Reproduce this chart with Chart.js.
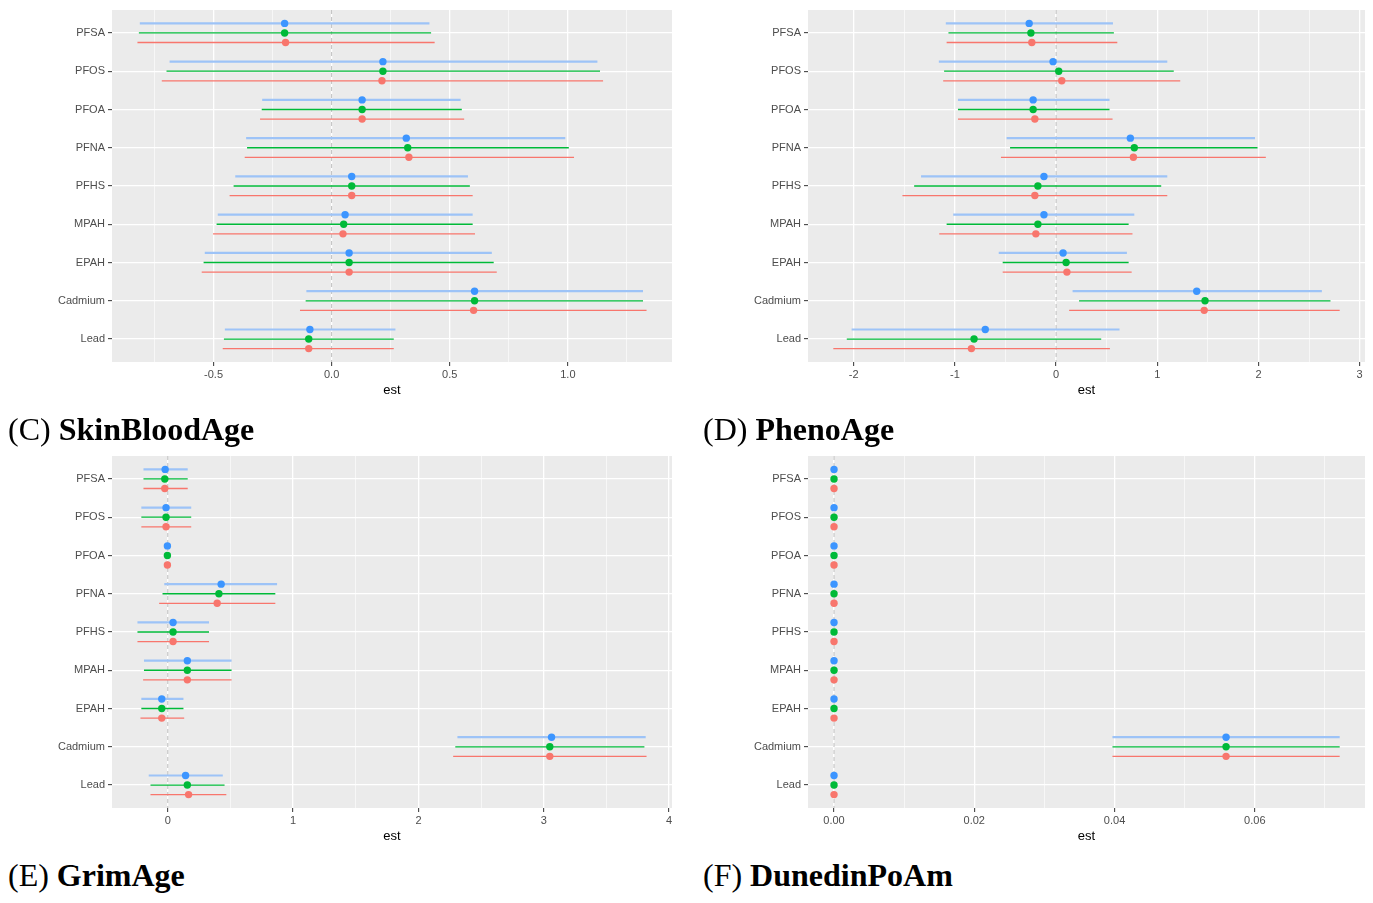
<!DOCTYPE html>
<html>
<head>
<meta charset="utf-8">
<script src="https://cdn.jsdelivr.net/npm/chart.js@4.4.1/dist/chart.umd.min.js"></script>
<style>
  body { margin: 0; background: #fff; width: 1373px; height: 903px; position: relative; overflow: hidden; }
  .panel { position: absolute; }
  .lab { position: absolute; font-family: "Liberation Serif", "Times New Roman", serif; font-size: 32px; line-height: 32px; color: #000; white-space: nowrap; }
  .lab b { font-weight: bold; }
</style>
</head>
<body>
<div class="panel" style="left:0;top:0;width:680px;height:400px"><canvas id="chartC"></canvas></div>
<div class="panel" style="left:690px;top:0;width:683px;height:400px"><canvas id="chartD"></canvas></div>
<div class="panel" style="left:0;top:446px;width:680px;height:400px"><canvas id="chartE"></canvas></div>
<div class="panel" style="left:690px;top:446px;width:683px;height:400px"><canvas id="chartF"></canvas></div>
<div class="lab" style="left:8px;top:413px">(C) <b>SkinBloodAge</b></div>
<div class="lab" style="left:703px;top:413px">(D) <b>PhenoAge</b></div>
<div class="lab" style="left:8px;top:859px">(E) <b>GrimAge</b></div>
<div class="lab" style="left:703px;top:859px">(F) <b>DunedinPoAm</b></div>
<script>
// exposures, top to bottom
const exposures = ['PFSA', 'PFOS', 'PFOA', 'PFNA', 'PFHS', 'MPAH', 'EPAH', 'Cadmium', 'Lead'];

// (C) SkinBloodAge
const skinBlueEst  = [-0.199, 0.217, 0.129, 0.316, 0.085, 0.057, 0.074, 0.605, -0.092];
const skinBlueLo   = [-0.812, -0.686, -0.294, -0.362, -0.408, -0.482, -0.537, -0.107, -0.452];
const skinBlueHi   = [0.414, 1.125, 0.546, 0.989, 0.577, 0.597, 0.678, 1.318, 0.270];
const skinGreenEst = [-0.199, 0.217, 0.129, 0.322, 0.085, 0.051, 0.074, 0.605, -0.097];
const skinGreenLo  = [-0.816, -0.699, -0.296, -0.358, -0.415, -0.487, -0.542, -0.110, -0.456];
const skinGreenHi  = [0.421, 1.136, 0.551, 1.004, 0.585, 0.597, 0.686, 1.318, 0.263];
const skinRedEst   = [-0.195, 0.213, 0.129, 0.327, 0.085, 0.048, 0.074, 0.601, -0.097];
const skinRedLo    = [-0.822, -0.719, -0.303, -0.368, -0.432, -0.502, -0.550, -0.134, -0.461];
const skinRedHi    = [0.436, 1.149, 0.561, 1.026, 0.597, 0.607, 0.699, 1.333, 0.263];

// (D) PhenoAge
const phenoBlueEst  = [-0.266, -0.030, -0.227, 0.734, -0.120, -0.120, 0.069, 1.390, -0.700];
const phenoBlueLo   = [-1.090, -1.159, -0.970, -0.489, -1.335, -1.017, -0.567, 0.163, -2.021];
const phenoBlueHi   = [0.562, 1.099, 0.528, 1.966, 1.099, 0.773, 0.700, 2.627, 0.627];
const phenoGreenEst = [-0.249, 0.026, -0.227, 0.773, -0.180, -0.180, 0.099, 1.472, -0.811];
const phenoGreenLo  = [-1.064, -1.107, -0.970, -0.455, -1.403, -1.082, -0.528, 0.227, -2.069];
const phenoGreenHi  = [0.571, 1.163, 0.528, 1.991, 1.039, 0.717, 0.717, 2.712, 0.446];
const phenoRedEst   = [-0.240, 0.056, -0.210, 0.764, -0.210, -0.200, 0.107, 1.464, -0.837];
const phenoRedLo    = [-1.082, -1.116, -0.970, -0.545, -1.519, -1.155, -0.528, 0.129, -2.202];
const phenoRedHi    = [0.605, 1.227, 0.558, 2.073, 1.099, 0.755, 0.747, 2.803, 0.532];

// (E) GrimAge
const grimBlueEst  = [-0.021, -0.014, -0.003, 0.426, 0.042, 0.156, -0.048, 3.062, 0.142];
const grimBlueLo   = [-0.194, -0.211, -0.012, -0.028, -0.242, -0.190, -0.211, 2.311, -0.152];
const grimBlueHi   = [0.159, 0.187, 0.006, 0.872, 0.329, 0.509, 0.125, 3.813, 0.439];
const grimGreenEst = [-0.024, -0.014, -0.003, 0.408, 0.042, 0.156, -0.048, 3.048, 0.156];
const grimGreenLo  = [-0.194, -0.211, -0.012, -0.042, -0.242, -0.190, -0.211, 2.294, -0.138];
const grimGreenHi  = [0.159, 0.187, 0.006, 0.858, 0.329, 0.509, 0.125, 3.803, 0.453];
const grimRedEst   = [-0.024, -0.014, -0.003, 0.394, 0.042, 0.156, -0.048, 3.048, 0.166];
const grimRedLo    = [-0.194, -0.211, -0.012, -0.069, -0.242, -0.197, -0.218, 2.277, -0.138];
const grimRedHi    = [0.159, 0.187, 0.006, 0.858, 0.329, 0.509, 0.131, 3.820, 0.467];

// (F) DunedinPoAm (all three fits nearly identical)
const dunBlueEst  = [0.0000, 0.0000, 0.0000, 0.0000, 0.0000, 0.0000, 0.0000, 0.0559, 0.0000];
const dunBlueLo   = [-0.0001, -0.0001, -0.0001, -0.0001, -0.0001, -0.0001, -0.0001, 0.0397, -0.0001];
const dunBlueHi   = [0.0001, 0.0001, 0.0001, 0.0001, 0.0001, 0.0001, 0.0001, 0.0721, 0.0001];
const dunGreenEst = [0.0000, 0.0000, 0.0000, 0.0000, 0.0000, 0.0000, 0.0000, 0.0559, 0.0000];
const dunGreenLo  = [-0.0001, -0.0001, -0.0001, -0.0001, -0.0001, -0.0001, -0.0001, 0.0397, -0.0001];
const dunGreenHi  = [0.0001, 0.0001, 0.0001, 0.0001, 0.0001, 0.0001, 0.0001, 0.0721, 0.0001];
const dunRedEst   = [0.0000, 0.0000, 0.0000, 0.0000, 0.0000, 0.0000, 0.0000, 0.0559, 0.0000];
const dunRedLo    = [-0.0001, -0.0001, -0.0001, -0.0001, -0.0001, -0.0001, -0.0001, 0.0397, -0.0001];
const dunRedHi    = [0.0001, 0.0001, 0.0001, 0.0001, 0.0001, 0.0001, 0.0001, 0.0721, 0.0001];

// x tick values and labels
const skinTicks = [-0.5, 0, 0.5, 1.0];
const skinTickLabels = ['-0.5', '0.0', '0.5', '1.0'];
const skinMinor = [-0.75, -0.25, 0.25, 0.75, 1.25];
const phenoTicks = [-2, -1, 0, 1, 2, 3];
const phenoTickLabels = ['-2', '-1', '0', '1', '2', '3'];
const phenoMinor = [-1.5, -0.5, 0.5, 1.5, 2.5];
const grimTicks = [0, 1, 2, 3, 4];
const grimTickLabels = ['0', '1', '2', '3', '4'];
const grimMinor = [0.5, 1.5, 2.5, 3.5];
const dunTicks = [0, 0.02, 0.04, 0.06];
const dunTickLabels = ['0.00', '0.02', '0.04', '0.06'];
const dunMinor = [0.01, 0.03, 0.05, 0.07];

const tickFont = { family: "'Liberation Sans', Arial, sans-serif", size: 11 };

// grey panel background like ggplot
const panelBg = {
    id: 'panelBg',
    beforeDraw(chart) {
        const { ctx, chartArea: a } = chart;
        ctx.save();
        ctx.fillStyle = '#EBEBEB';
        ctx.fillRect(a.left, a.top, a.right - a.left, a.bottom - a.top);
        ctx.restore();
    }
};

function makePanel(id, series, ticks, tickLabels, minor, yWidth, rightPad) {
    const datasets = [];
    let lo = Infinity, hi = -Infinity;
    series.forEach(s => {
        s.lo.forEach(v => { lo = Math.min(lo, v); });
        s.hi.forEach(v => { hi = Math.max(hi, v); });
        // interval segments
        s.est.forEach((v, i) => {
            datasets.push({
                data: [{ x: s.lo[i], y: i + s.off }, { x: s.hi[i], y: i + s.off }],
                showLine: true,
                borderColor: s.line,
                borderWidth: s.width,
                pointRadius: 0,
                order: 1
            });
        });
        // point estimates
        datasets.push({
            data: s.est.map((v, i) => ({ x: v, y: i + s.off })),
            backgroundColor: s.point,
            borderWidth: 0,
            pointRadius: 3.7,
            order: 0
        });
    });
    // expand like ggplot (5% each side)
    const pad = (hi - lo) * 0.05;
    const xMin = lo - pad, xMax = hi + pad;
    const yMin = -0.6, yMax = exposures.length - 0.4;

    // dashed reference line at zero
    datasets.push({
        data: [{ x: 0, y: yMin }, { x: 0, y: yMax }],
        showLine: true,
        borderColor: '#BDBDBD',
        borderWidth: 1,
        borderDash: [4, 3],
        pointRadius: 0,
        order: 2
    });

    return new Chart(document.getElementById(id), {
        type: 'scatter',
        data: { datasets: datasets },
        options: {
            responsive: true,
            maintainAspectRatio: false,
            animation: false,
            layout: { padding: { top: 10, right: rightPad, left: 0, bottom: 0 } },
            plugins: { legend: { display: false }, tooltip: { enabled: false } },
            scales: {
                x: {
                    type: 'linear',
                    min: xMin,
                    max: xMax,
                    bounds: 'data',
                    afterBuildTicks: scale => {
                        const t = ticks.map((v, k) => ({ value: v, lab: tickLabels[k] }))
                            .concat(minor.filter(v => v > xMin && v < xMax).map(v => ({ value: v, minor: true })));
                        t.sort((a, b) => a.value - b.value);
                        scale.ticks = t;
                    },
                    afterFit: scale => { scale.height = 38; },
                    ticks: {
                        callback: (v, i, t) => t[i].lab || '',
                        color: '#4D4D4D',
                        font: tickFont,
                        padding: 2,
                        autoSkip: false,
                        maxRotation: 0
                    },
                    grid: {
                        color: '#FFFFFF',
                        lineWidth: c => (c.tick && c.tick.minor) ? 0.6 : 1.3,
                        tickLength: 4,
                        tickColor: c => (c.tick && c.tick.minor) ? 'rgba(0,0,0,0)' : '#333333',
                        tickWidth: 1
                    },
                    border: { display: false },
                    title: {
                        display: true,
                        text: 'est',
                        color: '#000',
                        font: { family: "'Liberation Sans', Arial, sans-serif", size: 13 },
                        padding: { top: 0, bottom: 2 }
                    }
                },
                y: {
                    type: 'linear',
                    reverse: true,
                    min: yMin,
                    max: yMax,
                    bounds: 'data',
                    afterBuildTicks: scale => {
                        scale.ticks = exposures.map((n, i) => ({ value: i, lab: n }));
                    },
                    afterFit: scale => { scale.width = yWidth; },
                    ticks: {
                        callback: (v, i, t) => t[i].lab,
                        color: '#4D4D4D',
                        font: tickFont,
                        padding: 3,
                        autoSkip: false
                    },
                    grid: {
                        color: '#FFFFFF',
                        lineWidth: 1.3,
                        tickLength: 4,
                        tickColor: '#333333',
                        tickWidth: 1
                    },
                    border: { display: false }
                }
            }
        },
        plugins: [panelBg]
    });
}

function trio(bEst, bLo, bHi, gEst, gLo, gHi, rEst, rLo, rHi) {
    return [
        { est: bEst, lo: bLo, hi: bHi, off: -0.25, point: '#3C95FF', line: '#9DC3F7', width: 2.2 },
        { est: gEst, lo: gLo, hi: gHi, off: 0, point: '#00BA38', line: '#00BA38', width: 1.3 },
        { est: rEst, lo: rLo, hi: rHi, off: 0.25, point: '#F8766D', line: '#F8766D', width: 1.3 }
    ];
}

makePanel('chartC',
    trio(skinBlueEst, skinBlueLo, skinBlueHi, skinGreenEst, skinGreenLo, skinGreenHi, skinRedEst, skinRedLo, skinRedHi),
    skinTicks, skinTickLabels, skinMinor, 112, 8);
makePanel('chartD',
    trio(phenoBlueEst, phenoBlueLo, phenoBlueHi, phenoGreenEst, phenoGreenLo, phenoGreenHi, phenoRedEst, phenoRedLo, phenoRedHi),
    phenoTicks, phenoTickLabels, phenoMinor, 118, 8);
makePanel('chartE',
    trio(grimBlueEst, grimBlueLo, grimBlueHi, grimGreenEst, grimGreenLo, grimGreenHi, grimRedEst, grimRedLo, grimRedHi),
    grimTicks, grimTickLabels, grimMinor, 112, 8);
makePanel('chartF',
    trio(dunBlueEst, dunBlueLo, dunBlueHi, dunGreenEst, dunGreenLo, dunGreenHi, dunRedEst, dunRedLo, dunRedHi),
    dunTicks, dunTickLabels, dunMinor, 118, 8);
</script>
</body>
</html>
